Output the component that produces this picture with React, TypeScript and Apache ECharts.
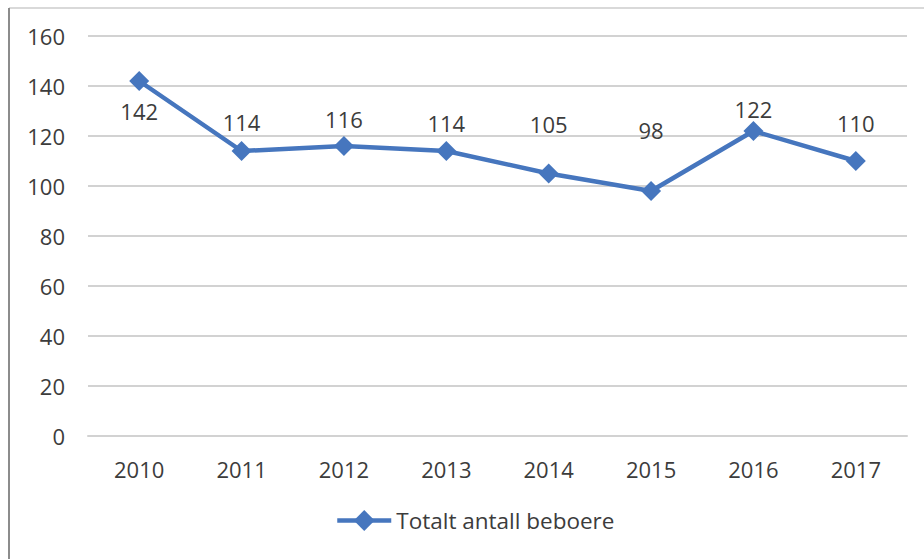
import React, { useEffect, useRef } from "react";
import * as echarts from "echarts";

const years = ["2010", "2011", "2012", "2013", "2014", "2015", "2016", "2017"];
const residents = [142, 114, 116, 114, 105, 98, 122, 110];
const seriesName = "Totalt antall beboere";
const yTicks = { min: 0, max: 160, interval: 20 };
// vertical shift of each data label relative to its point (layout only)
const labelShift = [30, -29, -27, -28, -50, -61, -22, -38];

export default function App() {
  const ref = useRef<HTMLDivElement>(null);
  useEffect(() => {
    if (!ref.current) return;
    const chart = echarts.init(ref.current, null, { renderer: "svg" });
    const font = "'Open Sans', sans-serif";
    const textColor = "#3c3c3c";
    const blue = "#4676BE";
    const fs = 22;
    chart.setOption({
      animation: false,
      backgroundColor: "#ffffff",
      grid: { left: 88, right: 17, top: 36, bottom: 123, containLabel: false },
      xAxis: {
        type: "category",
        data: years,
        boundaryGap: true,
        axisLine: { show: true, lineStyle: { color: "#d2d2d2", width: 2 } },
        axisTick: { show: false },
        axisLabel: { color: textColor, fontFamily: font, fontSize: fs, margin: 22 },
      },
      yAxis: {
        type: "value",
        min: yTicks.min,
        max: yTicks.max,
        interval: yTicks.interval,
        axisLine: { show: false },
        axisTick: { show: false },
        splitLine: { lineStyle: { color: "#d2d2d2", width: 2 } },
        axisLabel: { color: textColor, fontFamily: font, fontSize: fs, margin: 23 },
      },
      legend: {
        show: true,
        top: 509,
        left: 335,
        padding: 0,
        itemWidth: 54,
        itemHeight: 26,
        itemGap: 10,
        lineStyle: { width: 4.5, color: blue },
        itemStyle: { color: blue },
        textStyle: { color: textColor, fontFamily: font, fontSize: 22.5 },
        data: [seriesName],
      },
      series: [
        {
          name: seriesName,
          type: "line",
          data: residents.map((v, i) => ({
            value: v,
            label: { offset: [0, labelShift[i]] },
          })),
          symbol: "diamond",
          symbolSize: 20,
          lineStyle: { color: blue, width: 4.5 },
          itemStyle: { color: blue },
          label: {
            show: true,
            position: "inside",
            color: textColor,
            fontFamily: font,
            fontSize: fs,
          },
        },
      ],
      graphic: [
        {
          type: "line",
          shape: { x1: 9, y1: 8, x2: 924, y2: 8 },
          style: { stroke: "#d9d9d9", lineWidth: 2 },
        },
        {
          type: "line",
          shape: { x1: 9, y1: 8, x2: 9, y2: 559 },
          style: { stroke: "#8c8c8c", lineWidth: 2 },
        },
      ],
    });
    return () => chart.dispose();
  }, []);
  return (
    <div
      ref={ref}
      style={{ position: "fixed", left: 0, top: 0, width: 924, height: 559 }}
    />
  );
}
